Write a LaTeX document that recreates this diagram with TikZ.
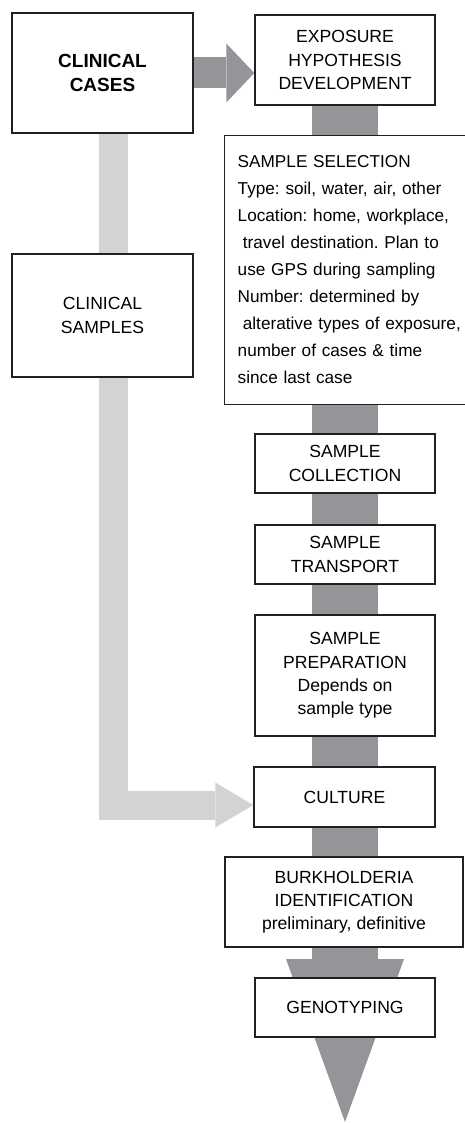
\documentclass[tikz,border=0pt]{standalone}
\usepackage{fontspec}
\setmainfont{Liberation Sans}
\usetikzlibrary{arrows.meta, backgrounds}
\frenchspacing

\definecolor{flowdark}{RGB}{147,149,152}
\definecolor{flowlight}{RGB}{209,211,212}
\definecolor{boxline}{RGB}{35,31,32}

\begin{document}
\begin{tikzpicture}[x=1pt, y=-1pt,
    box/.style={draw=boxline, line width=1.4pt, fill=white, align=center, inner sep=0pt,
        minimum width=180pt, font=\fontsize{17.6}{23.3}\selectfont},
    mainflow/.style={draw=flowdark, line width=66pt,
        -{Triangle[length=163pt, width=118pt, line width=0pt]}},
    caseflow/.style={draw=flowdark, line width=31pt,
        -{Triangle[length=28pt, width=59pt, line width=0pt]}},
    sampleflow/.style={draw=flowlight, line width=29pt,
        -{Triangle[length=38pt, width=45pt, line width=0pt]}}]
    \useasboundingbox (0,0) rectangle (464,1123);

    \node[box, minimum width=181pt, minimum height=120pt, font=\fontsize{19}{23.3}\selectfont\bfseries] (cases) at (102.5,73) {CLINICAL\\CASES};
    \node[box, minimum height=90pt] (expo) at (345,60) {EXPOSURE\\HYPOTHESIS\\DEVELOPMENT};
    \node[box, anchor=west, align=left, text width=270pt, inner xsep=13pt, minimum height=269pt,
        font=\fontsize{17.2}{27}\selectfont] (select) at (224,270)
        {SAMPLE SELECTION\\Type: soil, water, air, other\\Location: home, workplace,\\
         \hspace*{0.3em}travel destination. Plan to\\use GPS during sampling\\Number: determined by\\
         \hspace*{0.3em}alterative types of exposure,\\number of cases \& time\\since last case};
    \node[box, minimum width=181pt, minimum height=123pt] (samples) at (102.5,315.5) {CLINICAL\\SAMPLES};
    \node[box, minimum height=59pt] (collect) at (345,463.5) {SAMPLE\\COLLECTION};
    \node[box, minimum height=59pt] (transport) at (345,554.5) {SAMPLE\\TRANSPORT};
    \node[box, minimum height=121pt] (prep) at (345,675.5) {SAMPLE\\PREPARATION\\Depends on\\sample type};
    \node[box, minimum width=181pt, minimum height=60pt] (culture) at (344.5,797) {CULTURE};
    \node[box, minimum width=238pt, minimum height=90pt] (burk) at (344,902) {BURKHOLDERIA\\IDENTIFICATION\\preliminary, definitive};
    \node[box, minimum height=59pt] (geno) at (345,1007.5) {GENOTYPING};

    \coordinate (tip) at (345,1122);
    \coordinate (bend) at (113.5,805);

    \begin{scope}[on background layer]
        \draw[mainflow] (expo.center) -- (tip);
        \draw[caseflow] (cases.east) -- (cases.east -| expo.west);
        \draw[sampleflow] (cases.south -| bend) -- (bend) -- (culture.west |- bend);
    \end{scope}
\end{tikzpicture}
\end{document}
